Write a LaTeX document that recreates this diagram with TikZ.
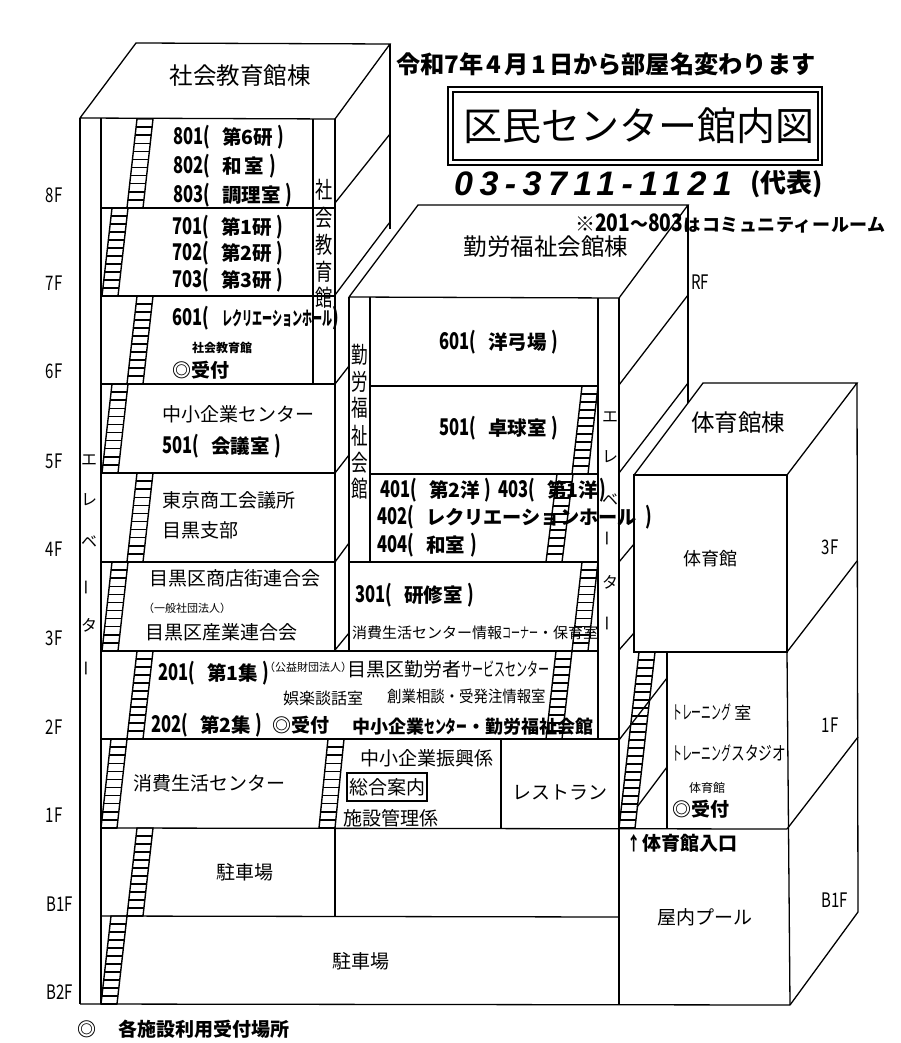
\documentclass[tikz,border=0pt]{standalone}
\usepackage{fontspec}
\usepackage{graphicx}
\setmainfont{Noto Sans CJK JP}
\newfontfamily\phonefont{Liberation Sans}
\usetikzlibrary{calc}
\newcommand{\fsz}[1]{\fontsize{#1}{#1}\selectfont}
\newcommand{\nar}[2]{\scalebox{#1}[1]{#2}}
% room number, name, closing bracket
\newcommand{\roomno}[1]{\nar{.72}{\bfseries\fsz{23}#1(}}
\newcommand{\roomend}{\nar{.72}{\bfseries\fsz{23})}}
\newcommand{\roomline}[2]{\roomno{#1}\hspace{12pt}{\bfseries\fsz{19.5}#2}\hspace{5pt}\roomend}
\newcommand{\stairrun}[5]{
	\draw[stairline] (#1,#2) -- (#3,#4) -- ++(16,0) -- (#1+16,#2) -- cycle;
	\foreach \k in {1,...,#5}
		\draw[stairline] ($(#1,#2)!\k/#5!(#3,#4)$) -- ++(16,0);
}
\tikzset{
	wall/.style={line width=1.3pt},
	stairline/.style={line width=1.4pt},
	lbl/.style={inner sep=0pt,anchor=west,font=\fsz{19}},
	mid/.style={inner sep=0pt,font=\fsz{19}},
	bld/.style={inner sep=0pt,font=\fsz{23.5}},
	flr/.style={inner sep=0pt,font=\fsz{20}},
	evc/.style={inner sep=0pt,font=\fsz{16}},
	band/.style={inner sep=0pt,font=\fsz{23}},
}
\begin{document}
\begin{tikzpicture}[x=1pt,y=-1pt]
	\useasboundingbox (0,0) rectangle (900,1043);

	% west block
	\draw[wall] (80,118)--(136,43)--(390,44)--(335,119)--(80,118);
	\draw[wall] (390,44)--(390,229);
	\draw[wall] (80,118)--(80,1004);
	\draw[wall] (101,118)--(101,1004);
	\draw[wall] (335,119)--(335,651);
	\draw[wall] (313,119)--(313,384);
	\foreach \yy in {208,296,384,473,562}
		\draw[wall] (101,\yy)--(335,\yy);
	\draw[wall] (335,203)--(390,134);
	\draw[wall] (335,295)--(390,222);
	\draw[wall] (335,384)--(349,366);
	\draw[wall] (335,473)--(349,455);
	\draw[wall] (335,562)--(349,543);
	\draw[wall] (335,650)--(349,633);

	% middle block
	\draw[wall] (349,297)--(418,205)--(688,205)--(619,298)--(349,297);
	\draw[wall] (688,205)--(688,403);
	\draw[wall] (349,297)--(349,651);
	\draw[wall] (370,297)--(370,562);
	\draw[wall] (598,298)--(598,739);
	\draw[wall] (619,298)--(619,1004);
	\draw[wall] (370,386)--(598,386);
	\draw[wall] (370,474)--(598,474);
	\draw[wall] (349,562)--(598,562);
	\draw[wall] (619,385)--(688,295);
	\draw[wall] (619,473)--(688,383);
	\draw[wall] (619,562)--(634,544);
	\draw[wall] (619,650)--(634,633);
	\draw[wall] (619,740)--(667,678);
	\draw[wall] (637,807)--(667,767);

	% lower floors
	\draw[wall] (101,651)--(598,651);
	\draw[wall] (101,739)--(619,739);
	\draw[wall] (101,828)--(787,829);
	\draw[wall] (101,916)--(619,917);
	\draw[wall] (80,1004)--(790,1005);
	\draw[wall] (501,739)--(501,828);
	\draw[wall] (335,828)--(335,916);
	\draw[wall] (347,773) rectangle (427,801);

	% gym block
	\draw[wall] (634,475)--(703,383)--(857,383)--(787,475);
	\draw[wall] (634,475) rectangle (787,652);
	\draw[wall] (857,383)--(858,912);
	\draw[wall] (787,652)--(857,561);
	\draw[wall] (787,829)--(858,737);
	\draw[wall] (790,1005)--(858,912);
	\draw[wall] (787,652)--(790,1005);
	\draw[wall] (667,652)--(667,829);

	% stairs
	\foreach \xt/\yt/\xb/\yb in {137/119/127/208,112/208/102/296,137/296/127/384,112/384/102/473,
			137/473/127/562,112/562/102/651,137/651/127/739,111/739/101/828,137/828/127/916,
			111/916/101/1004,328/739/319/828,582/386/572/474,557/474/546/562,582/562/572/651,556/651/546/739}
		{\stairrun{\xt}{\yt}{\xb}{\yb}{11}}
	\stairrun{639}{652}{619}{828}{22}

	% header
	\node[lbl,font=\bfseries\fsz{24.2}] (notice) at (396,64) {令和7年\hspace{3pt}4\hspace{3pt}月\hspace{3pt}1\hspace{3pt}日から部屋名変わります};
	\draw[wall] (448,87) rectangle (822,165);
	\draw[wall] (453,92) rectangle (818,160);
	\node[mid,font=\fsz{39}] (title) at (639,126) {区民センター館内図};
	\node[lbl,font=\phonefont\bfseries\itshape\fsz{34}\addfontfeatures{LetterSpace=19}] (phone) at (454,184) {03-3711-1121};
	\node[lbl,font=\bfseries\fsz{26}] (phonenote) at (750,184) {(代表)};
	\node[lbl,font=\bfseries\fsz{20}] (remark) at (575,223) {※\nar{.8}{\fsz{24}201}\nar{.9}{～}\nar{.8}{\fsz{24}803}{\fsz{17}は}\hspace{2pt}{\fsz{18}\addfontfeatures{LetterSpace=3}コミュニティールーム}};

	% building names
	\node[bld] (westname) at (240,76) {社会教育館棟};
	\node[bld] (midname) at (546,247) {勤労福祉会館棟};
	\node[bld] (gymname) at (738,423) {体育館棟};

	% floor marks
	\foreach \fl/\yy in {8F/195,7F/283,6F/371,5F/461,4F/549,3F/638,2F/727,1F/815}
		\node[flr] (left\fl) at (54,\yy) {\nar{.75}{\fl}};
	\node[flr] (leftB1F) at (60,904) {\nar{.75}{B1F}};
	\node[flr] (leftB2F) at (60,992) {\nar{.75}{B2F}};
	\node[flr] (rightRF) at (700,282) {\nar{.75}{RF}};
	\node[flr] (right3F) at (830,547) {\nar{.75}{3F}};
	\node[flr] (right1F) at (830,725) {\nar{.75}{1F}};
	\node[flr] (rightB1F) at (835,900) {\nar{.75}{B1F}};

	% vertical labels
	\foreach \ch/\yy in {社/190,会/218,教/245,育/272,館/298}
		\node[band] (wb\yy) at (324,\yy) {\nar{.75}{\ch}};
	\foreach \ch/\yy in {勤/355,労/382,福/408,祉/436,会/463,館/489}
		\node[band] (mb\yy) at (360,\yy) {\nar{.72}{\ch}};
	\foreach \ch/\yy in {エ/460,レ/500,ベ/542,{\rotatebox{90}{ー}}/587,タ/625,{\rotatebox{90}{ー}}/668}
		\node[evc] (we\yy) at (89,\yy) {\ch};
	\foreach \ch/\yy in {エ/417,レ/457,ベ/500,{\rotatebox{90}{ー}}/538,タ/582,{\rotatebox{90}{ー}}/623}
		\node[evc] (ee\yy) at (610,\yy) {\ch};

	% west rooms
	\node[lbl] (r801) at (173,137) {\roomline{801}{第6研}};
	\node[lbl] (r802) at (173,166) {\roomline{802}{和\,室}};
	\node[lbl] (r803) at (173,195) {\roomline{803}{調理室}};
	\node[lbl] (r701) at (172,227) {\roomline{701}{第1研}};
	\node[lbl] (r702) at (172,253) {\roomline{702}{第2研}};
	\node[lbl] (r703) at (172,280) {\roomline{703}{第3研}};
	\node[lbl] (r601) at (172,318) {\roomno{601}\hspace{13pt}\nar{.53}{\bfseries レクリエーションホール}\roomend};
	\node[lbl,font=\bfseries\fsz{12}] (wgname) at (192,348) {社会教育館};
	\node[lbl,font=\bfseries\fsz{19}] (wgdesk) at (172,370) {◎受付};
	\node[lbl] (smec) at (162,414) {中小企業センター};
	\node[lbl] (r501) at (162,446) {\roomline{501}{会議室}};
	\node[lbl] (tcci) at (162,500) {東京商工会議所};
	\node[lbl] (tccib) at (162,530) {目黒支部};
	\node[lbl] (shops) at (149,578) {目黒区商店街連合会};
	\node[lbl,font=\fsz{11}] (assoc) at (143,608) {（一般社団法人）};
	\node[lbl] (indus) at (145,632) {目黒区産業連合会};
	\node[lbl] (r201) at (158,673) {\roomline{201}{第1集}};
	\node[lbl,font=\fsz{11}] (found) at (264,667) {（公益財団法人）};
	\node[lbl] (wsc) at (347,669) {目黒区勤労者\nar{.58}{サービスセンター}};
	\node[lbl,font=\fsz{16}] (club) at (283,698) {娯楽談話室};
	\node[lbl,font=\fsz{16}] (startup) at (387,696) {\nar{.9}{創業相談・受発注情報室}};
	\node[lbl] (r202) at (151,725) {\roomline{202}{第2集}};
	\node[lbl,font=\bfseries\fsz{19}] (desk2) at (272,725) {◎受付};
	\node[lbl,font=\bfseries\fsz{18}] (desk2n) at (352,727) {中小企業\nar{.6}{センター}・勤労福祉会館};
	\node[lbl] (consum) at (133,783) {消費生活センター};
	\node[lbl] (promo) at (360,758) {中小企業振興係};
	\node[mid] (info) at (387,787) {総合案内};
	\node[lbl] (mgmt) at (343,818) {施設管理係};
	\node[lbl] (rest) at (512,793) {レストラン};
	\node[lbl] (park1) at (216,872) {駐車場};
	\node[lbl] (park2) at (332,961) {駐車場};

	% middle rooms
	\node[lbl] (m601) at (439,342) {\roomline{601}{洋弓場}};
	\node[lbl] (m501) at (439,428) {\roomline{501}{卓球室}};
	\node[lbl] (m401) at (380,490) {\roomline{401}{第2洋}};
	\node[lbl] (m403) at (498,490) {\roomno{403}\hspace{12pt}{\bfseries\fsz{19.5}第1洋}\hspace{2pt}\roomend};
	\node[lbl] (m402) at (377,517) {\roomno{402}\hspace{12pt}{\bfseries\fsz{19.2}レクリエーションホール}\hspace{9pt}\roomend};
	\node[lbl] (m404) at (377,545) {\roomline{404}{和室}};
	\node[lbl] (m301) at (355,595) {\roomline{301}{研修室}};
	\node[lbl,font=\fsz{15}] (minfo) at (352,633) {消費生活センター情報\nar{.6}{コーナー}・保育室};

	% gym rooms
	\node[mid,font=\fsz{18}] (gymhall) at (710,559) {体育館};
	\node[lbl] (train1) at (672,712) {\nar{.52}{トレーニング}\hspace{3pt}\fsz{17}室};
	\node[lbl] (train2) at (672,753) {\nar{.52}{トレーニング}\nar{.72}{スタジオ}};
	\node[lbl,font=\fsz{12}] (gymdesk) at (689,788) {体育館};
	\node[lbl,font=\bfseries\fsz{19}] (gymdesk2) at (672,809) {◎受付};
	\node[lbl,font=\bfseries\fsz{19}] (gymdoor) at (627,843) {\nar{.7}{↑}\hspace{2pt}体育館入口};
	\node[lbl] (pool) at (657,917) {屋内プール};

	% legend
	\node[lbl,font=\bfseries\fsz{19}] (legmark) at (77,1029) {◎};
	\node[lbl,font=\bfseries\fsz{19}] (legend) at (118,1029) {各施設利用受付場所};
\end{tikzpicture}
\end{document}
